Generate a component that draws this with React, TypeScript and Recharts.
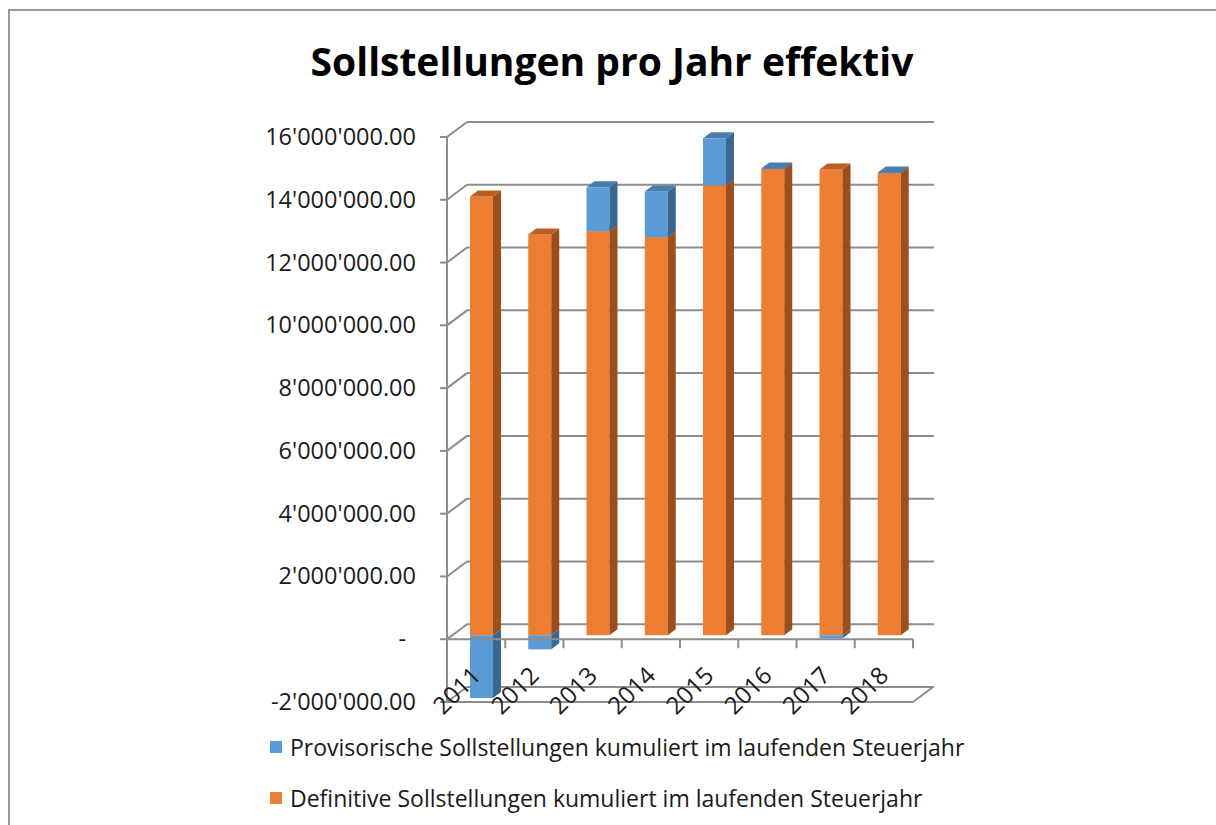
import { BarChart, Bar, XAxis, YAxis, CartesianGrid, ReferenceLine } from "recharts";

const years = ["2011", "2012", "2013", "2014", "2015", "2016", "2017", "2018"];
const provisorisch = [-2000000, -450000, 1400000, 1460000, 1500000, 30000, -100000, 30000];
const definitiv = [13980000, 12770000, 12870000, 12680000, 14330000, 14840000, 14840000, 14710000];
const yTicks = [-2000000, 0, 2000000, 4000000, 6000000, 8000000, 10000000, 12000000, 14000000, 16000000];

const seriesNames = {
  prov: "Provisorische Sollstellungen kumuliert im laufenden Steuerjahr",
  def: "Definitive Sollstellungen kumuliert im laufenden Steuerjahr",
};

const data = years.map((year, i) => ({ year, prov: provisorisch[i], def: definitiv[i] }));

const FONT = "'Open Sans', sans-serif";
const TEXT = "#1a1a1a";
const GRID = "#8c8c8c";
const ORANGE = { front: "#ED7D31", side: "#9C4F1C", top: "#BD5F22" };
const BLUE = { front: "#5B9BD5", side: "#3A6790", top: "#4A7DAE" };

// depth offsets of the fake 3d box
const BAR_DX = 5, BAR_DY = -4, SIDE_DX = 8, SIDE_DY = -6;
const WALL_DX = 20, WALL_DY = -15;

function fmt(v: number) {
  if (v === 0) return "-";
  const s = Math.abs(v).toString().replace(/\B(?=(\d{3})+(?!\d))/g, "'");
  return (v < 0 ? "-" : "") + s + ".00";
}

function Box3D(props: any, c: { front: string; side: string; top: string }, hideTop: boolean) {
  const { x, y, width, height } = props;
  if (height == null || width == null) return <g />;
  const top = Math.min(y, y + height) + BAR_DY;
  const h = Math.abs(height);
  const l = x + BAR_DX;
  const r = l + width;
  return (
    <g>
      <rect x={l} y={top} width={width} height={h} fill={c.front} />
      <polygon
        points={`${r},${top} ${r + SIDE_DX},${top + SIDE_DY} ${r + SIDE_DX},${top + SIDE_DY + h} ${r},${top + h}`}
        fill={c.side}
      />
      {!hideTop && (
        <polygon
          points={`${l},${top} ${l + SIDE_DX},${top + SIDE_DY} ${r + SIDE_DX},${top + SIDE_DY} ${r},${top}`}
          fill={c.top}
        />
      )}
    </g>
  );
}

const gridLine = (p: any) => (
  <g key={p.key}>
    <line x1={p.x1 + WALL_DX} y1={p.y1 + WALL_DY} x2={p.x2 + WALL_DX + 1} y2={p.y2 + WALL_DY} stroke={GRID} strokeWidth={2} />
    <line x1={p.x1} y1={p.y1} x2={p.x1 + WALL_DX} y2={p.y1 + WALL_DY} stroke={GRID} strokeWidth={2} />
  </g>
);

const zeroLine = (p: any) => {
  const step = (p.x2 - p.x1) / years.length;
  return (
    <g>
      <line x1={p.x1} y1={p.y1} x2={p.x2} y2={p.y2} stroke={GRID} strokeWidth={2} />
      {years.map((_, i) => (
        <line key={i} x1={p.x1 + step * (i + 1)} y1={p.y1} x2={p.x1 + step * (i + 1)} y2={p.y1 + 9} stroke={GRID} strokeWidth={2} />
      ))}
    </g>
  );
};

const floorLine = (p: any) => (
  <g>
    <line x1={p.x1} y1={p.y1} x2={p.x2} y2={p.y2} stroke={GRID} strokeWidth={2} />
    <line x1={p.x2} y1={p.y2} x2={p.x2 + WALL_DX} y2={p.y2 + WALL_DY} stroke={GRID} strokeWidth={2} />
  </g>
);

const YearTick = (p: any) => (
  <text
    x={p.x + 6}
    y={p.y - 25}
    transform={`rotate(-45 ${p.x + 6} ${p.y - 25})`}
    textAnchor="end"
    fontFamily={FONT}
    fontSize={24}
    fill={TEXT}
  >
    {p.payload.value}
  </text>
);

const ValueTick = (p: any) => (
  <text
    x={p.x - (p.payload.value === 0 ? 10 : 0)}
    y={p.y}
    dy={8}
    textAnchor="end"
    fontFamily={FONT}
    fontSize={23.5}
    fill={TEXT}
  >
    {fmt(p.payload.value)}
  </text>
);

const legendItems = [
  { name: seriesNames.prov, color: BLUE.front },
  { name: seriesNames.def, color: ORANGE.front },
];

export default function App() {
  return (
    <div style={{ position: "absolute", left: 0, top: 0, width: 1216, height: 825, overflow: "hidden", background: "#fff" }}>
      <div
        style={{
          position: "absolute", left: 8, top: 9, width: 1400, height: 1000,
          borderTop: "2px solid #9a9a9a", borderLeft: "2px solid #9a9a9a",
        }}
      />
      <div
        style={{
          position: "absolute", left: 0, top: 34, width: 1224, textAlign: "center",
          fontFamily: FONT, fontWeight: 700, fontSize: 39, color: "#000",
        }}
      >
        Sollstellungen pro Jahr effektiv
      </div>
      <div style={{ position: "absolute", left: 0, top: 0 }}>
        <BarChart
          width={1216}
          height={825}
          data={data}
          stackOffset="sign"
          barSize={23}
          margin={{ top: 137, right: 303, bottom: 93, left: 267 }}
        >
          <CartesianGrid vertical={false} horizontal={gridLine} />
          <XAxis dataKey="year" axisLine={false} tickLine={false} tickSize={0} tickMargin={0} tick={YearTick} interval={0} height={30} />
          <YAxis
            domain={[-2000000, 16000000]}
            ticks={yTicks}
            width={180}
            tick={ValueTick}
            tickSize={7}
            tickMargin={24}
            axisLine={{ stroke: GRID, strokeWidth: 2 }}
            tickLine={{ stroke: GRID, strokeWidth: 2 }}
          />
          <ReferenceLine y={-2000000} shape={floorLine} />
          <ReferenceLine y={0} shape={zeroLine} />
          <Bar
            dataKey="def"
            name={seriesNames.def}
            stackId="a"
            isAnimationActive={false}
            shape={(p: any) => Box3D(p, ORANGE, false)}
          />
          <Bar
            dataKey="prov"
            name={seriesNames.prov}
            stackId="a"
            isAnimationActive={false}
            shape={(p: any) => Box3D(p, BLUE, p.payload.prov < 0)}
          />
        </BarChart>
      </div>
      <div style={{ position: "absolute", left: 270, top: 721, fontFamily: FONT, fontSize: 23, color: TEXT }}>
        {legendItems.map((it) => (
          <div key={it.name} style={{ display: "flex", alignItems: "center", height: 51, whiteSpace: "nowrap" }}>
            <span style={{ width: 12, height: 12, background: it.color, display: "inline-block", marginRight: 8 }} />
            <span>{it.name}</span>
          </div>
        ))}
      </div>
    </div>
  );
}
